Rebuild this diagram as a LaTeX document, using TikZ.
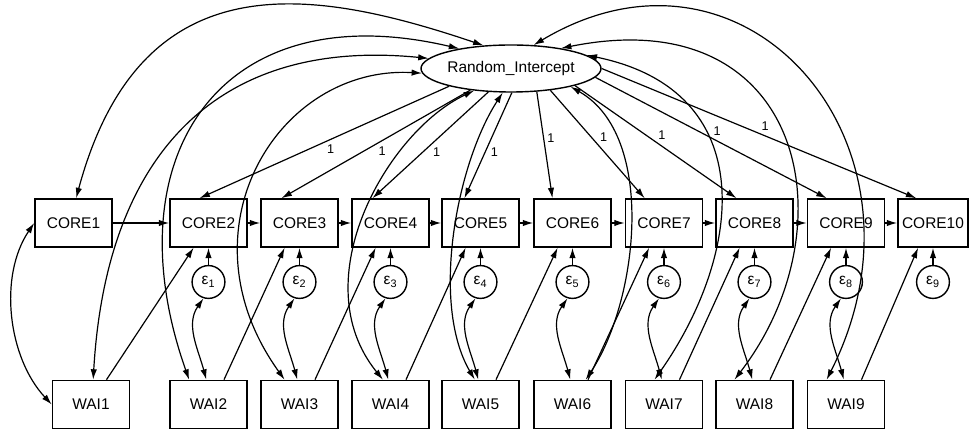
\documentclass[tikz,border=0pt]{standalone}
\usepackage{fontspec}
\setmainfont{Liberation Sans}
\usetikzlibrary{arrows.meta,shapes.geometric}

\begin{document}
\begin{tikzpicture}[x=0.025cm, y=0.025cm, >={Latex[length=2.6mm,width=1.6mm]},
    obs/.style={draw, line width=1.1pt, minimum width=1.925cm, minimum height=1.2cm, inner sep=0pt, font=\fontsize{11}{13}\selectfont},
    lat/.style={draw, ellipse, line width=1pt, minimum width=3.45cm, minimum height=1.175cm, inner sep=0pt, font=\fontsize{11}{13}\selectfont},
    err/.style={draw, circle, line width=1pt, minimum size=0.82cm, inner sep=0pt, font=\fontsize{11}{12}\selectfont},
    lbl/.style={auto, inner sep=1.5pt, font=\fontsize{9}{10}\selectfont},
    arr/.style={->, line width=0.85pt},
    cov/.style={<->, line width=0.85pt}]
            \useasboundingbox (0,0) rectangle (969,432);
            % latent intercept
            \node[lat] (ri) at (511,363.5) {Random\_Intercept};
            % CORE row
            \node[obs] (c1) at (73.5,209) {CORE1};
            \node[obs] (c2) at (208.5,209) {CORE2};
            \node[obs] (c3) at (299.5,209) {CORE3};
            \node[obs] (c4) at (390.5,209) {CORE4};
            \node[obs] (c5) at (480.5,209) {CORE5};
            \node[obs] (c6) at (572.5,209) {CORE6};
            \node[obs] (c7) at (664,209) {CORE7};
            \node[obs] (c8) at (754.5,209) {CORE8};
            \node[obs] (c9) at (846,209) {CORE9};
            \node[obs, minimum width=1.75cm] (c10) at (933,209) {CORE10};
            % errors
            \node[err] (e1) at (208.5,150) {ε\textsubscript{1}};
            \node[err] (e2) at (299.5,150) {ε\textsubscript{2}};
            \node[err] (e3) at (390.5,150) {ε\textsubscript{3}};
            \node[err] (e4) at (480.5,150) {ε\textsubscript{4}};
            \node[err] (e5) at (572.5,150) {ε\textsubscript{5}};
            \node[err] (e6) at (664,150) {ε\textsubscript{6}};
            \node[err] (e7) at (754.5,150) {ε\textsubscript{7}};
            \node[err] (e8) at (846,150) {ε\textsubscript{8}};
            \node[err] (e9) at (933,150) {ε\textsubscript{9}};
            % WAI row
            \node[obs] (w1) at (91,27.5) {WAI1};
            \node[obs] (w2) at (208.5,27.5) {WAI2};
            \node[obs] (w3) at (299.5,27.5) {WAI3};
            \node[obs] (w4) at (390.5,27.5) {WAI4};
            \node[obs] (w5) at (480.5,27.5) {WAI5};
            \node[obs] (w6) at (572.5,27.5) {WAI6};
            \node[obs] (w7) at (664,27.5) {WAI7};
            \node[obs] (w8) at (754.5,27.5) {WAI8};
            \node[obs] (w9) at (846,27.5) {WAI9};
            % loadings of the intercept
            \draw[arr] (ri.196) -- node[lbl] {1} (c2.110);
            \draw[arr] (ri.208) -- node[lbl] {1} (c3.126);
            \draw[arr] (ri.226) -- node[lbl] {1} (c4.126);
            \draw[arr] (ri.272) -- node[lbl] {1} (c5.123);
            \draw[arr] (ri.318) -- node[lbl] {1} (c6.129);
            \draw[arr] (ri.331) -- node[lbl] {1} (c7.128);
            \draw[arr] (ri.345) -- node[lbl] {1} (c8.126);
            \draw[arr] (ri.354) -- node[lbl] {1} (c9.128);
            \draw[arr] (ri.0) -- node[lbl] {1} (c10.124);
            % autoregressive paths
            \draw[arr] (c1) -- (c2);
            \draw[arr] (c2) -- (c3);
            \draw[arr] (c3) -- (c4);
            \draw[arr] (c4) -- (c5);
            \draw[arr] (c5) -- (c6);
            \draw[arr] (c6) -- (c7);
            \draw[arr] (c7) -- (c8);
            \draw[arr] (c8) -- (c9);
            \draw[arr] (c9) -- (c10);
            % errors to CORE
            \draw[arr] (e1) -- (c2);
            \draw[arr] (e2) -- (c3);
            \draw[arr] (e3) -- (c4);
            \draw[arr] (e4) -- (c5);
            \draw[arr] (e5) -- (c6);
            \draw[arr] (e6) -- (c7);
            \draw[arr] (e7) -- (c8);
            \draw[arr] (e8) -- (c9);
            \draw[arr] (e9) -- (c10);
            % cross-lagged paths
            \draw[arr] (w1.58) -- (c2.239);
            \draw[arr] (w2.58) -- (c3.239);
            \draw[arr] (w3.58) -- (c4.239);
            \draw[arr] (w4.58) -- (c5.239);
            \draw[arr] (w5.58) -- (c6.239);
            \draw[arr] (w6.58) -- (c7.239);
            \draw[arr] (w7.58) -- (c8.239);
            \draw[arr] (w8.58) -- (c9.239);
            \draw[arr] (w9.58) -- (c10.239);
            % error covariances
            \draw[cov] (e1.253) to[out=235, in=105] (w2.95);
            \draw[cov] (e2.253) to[out=235, in=105] (w3.95);
            \draw[cov] (e3.253) to[out=235, in=105] (w4.95);
            \draw[cov] (e4.253) to[out=235, in=105] (w5.95);
            \draw[cov] (e5.253) to[out=235, in=105] (w6.95);
            \draw[cov] (e6.253) to[out=235, in=105] (w7.95);
            \draw[cov] (e7.253) to[out=235, in=105] (w8.95);
            \draw[cov] (e8.253) to[out=235, in=105] (w9.95);
            \draw[cov] (c1.west) to[out=236, in=133, looseness=0.9] (w1.west);
            % covariances with the intercept
            \draw[cov] (ri.140) .. controls (313,444) and (141,474) .. (c1.84);
            \draw[cov] (ri.173) .. controls (214,395) and (106,274) .. (w1.85);
            \draw[cov] (ri.159) .. controls (218,440) and (111,273) .. (w2.128);
            \draw[cov] (ri.183.5) .. controls (278,367) and (177,202) .. (w3.121);
            \draw[cov] (ri.211) .. controls (388,301) and (302,152) .. (w4.107);
            \draw[cov] (ri.251) .. controls (457,269) and (430,129) .. (w5.103);
            \draw[cov] (ri.343) .. controls (657,296) and (638,131) .. (w6.62);
            \draw[cov] (ri.10) .. controls (762,341) and (743,178) .. (w7.111);
            \draw[cov] (ri.22.5) .. controls (805,433) and (852,205) .. (w8.129);
            \draw[cov] (ri.46.9) .. controls (748,515) and (944,285) .. (w9.128);
\end{tikzpicture}
\end{document}
